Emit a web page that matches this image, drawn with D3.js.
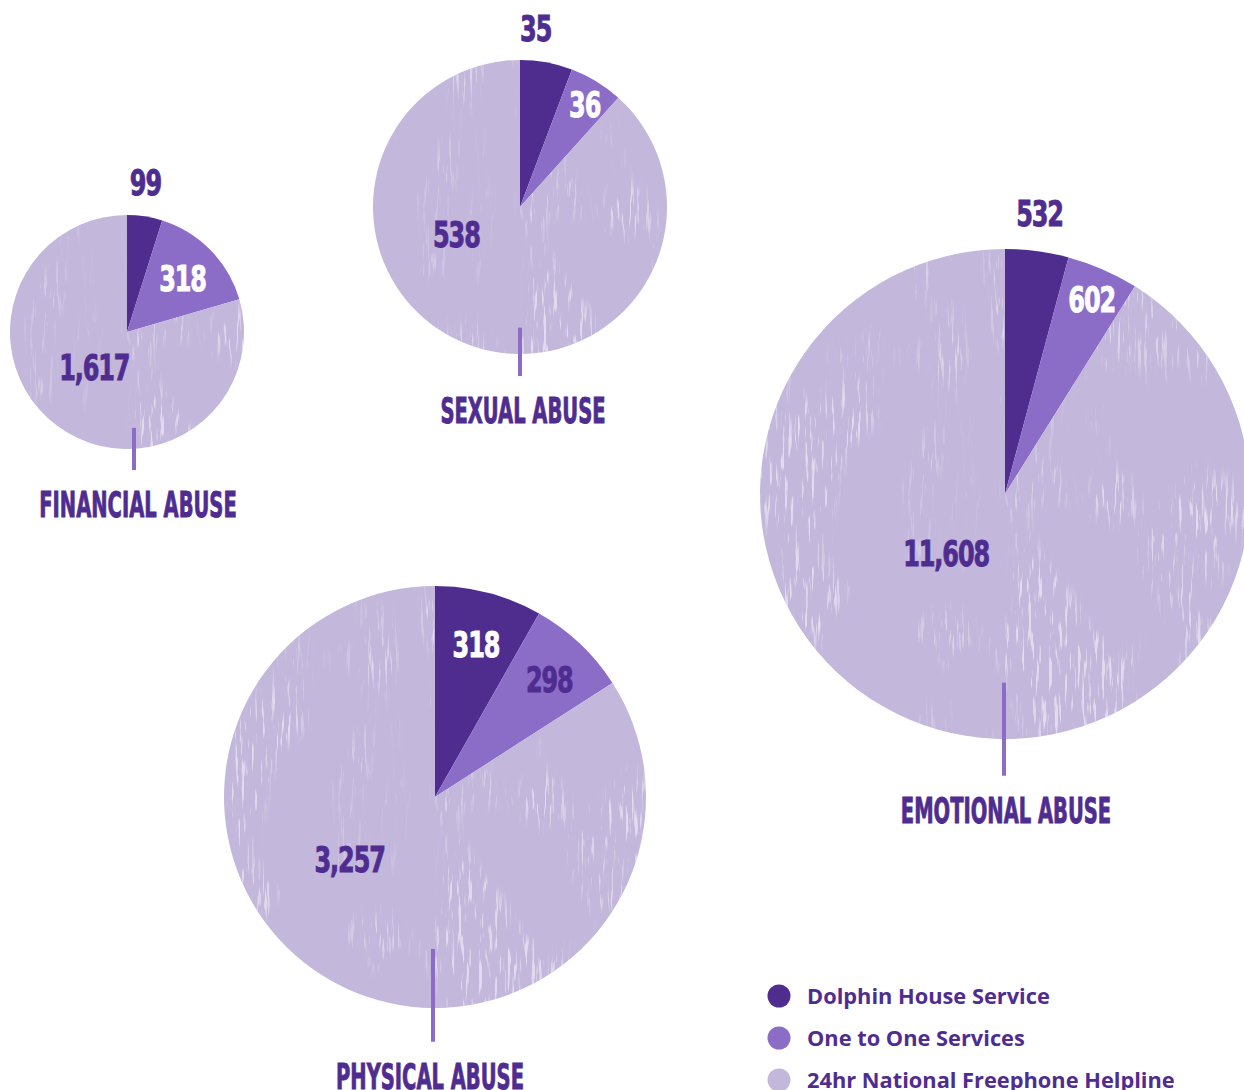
<!DOCTYPE html>
<html>
<head>
<meta charset="utf-8">
<script src="https://cdn.jsdelivr.net/npm/d3@7/dist/d3.min.js"></script>
<style>
  html, body { margin: 0; padding: 0; background: #fff; }
  svg { display: block; }
</style>
</head>
<body>
<div id="chart"></div>
<script>
// Data
const categories = ['FINANCIAL ABUSE', 'SEXUAL ABUSE', 'EMOTIONAL ABUSE', 'PHYSICAL ABUSE'];
const services = ['Dolphin House Service', 'One to One Services', '24hr National Freephone Helpline'];
const dolphinHouse = [99, 35, 532, 318];
const oneToOne = [318, 36, 602, 298];
const helpline = [1617, 538, 11608, 3257];

// Layout (centres, radii, label placement as [angle deg, radius fraction])
const layout = [
    { cx: 127, cy: 332, r: 117, lineX: 134, titleDx: 4, labels: [[7, 1.29], [46, 0.66], [223, 0.41]] },
    { cx: 520, cy: 207, r: 147, lineX: 520, titleDx: 3, labels: [[5, 1.22], [32, 0.83], [247, 0.47]] },
    { cx: 1005, cy: 494, r: 245, lineX: 1004, titleDx: 2, labels: [[7, 1.155], [24, 0.87], [225, 0.34]] },
    { cx: 435, cy: 797, r: 211, lineX: 433, titleDx: -3, labels: [[15, 0.75], [44, 0.78], [234, 0.5]] }
];
const lineSpan = [[0.82, 1.18], [0.82, 1.15], [0.77, 1.15], [0.72, 1.16]];

const colors = ['#4f2d8f', '#8b6dc8', '#c3b7db'];
const labelColors = [
    ['#4f2d90', '#ffffff', '#4f2d90'],
    ['#4f2d90', '#ffffff', '#4f2d90'],
    ['#4f2d90', '#ffffff', '#4f2d90'],
    ['#ffffff', '#4f2d90', '#4f2d90']
];
const textColor = '#4f2d90';
const condensed = "'Liberation Sans Narrow', 'DejaVu Sans Condensed', 'Arial Narrow', sans-serif";

const width = 1244, height = 1090;

const svg = d3.select('#chart').append('svg')
    .attr('width', width)
    .attr('height', height);

// grunge texture for the helpline slices: vertical streaks, masked by patches
const defs = svg.append('defs');
const filter = defs.append('filter').attr('id', 'grunge')
    .attr('x', 0).attr('y', 0).attr('width', '100%').attr('height', '100%');
filter.append('feTurbulence')
    .attr('type', 'fractalNoise')
    .attr('baseFrequency', '0.3 0.025')
    .attr('numOctaves', 3)
    .attr('seed', 7)
    .attr('result', 'noise');
filter.append('feTurbulence')
    .attr('type', 'fractalNoise')
    .attr('baseFrequency', '0.012 0.008')
    .attr('numOctaves', 2)
    .attr('seed', 3)
    .attr('result', 'patch');
filter.append('feColorMatrix')
    .attr('in', 'patch')
    .attr('type', 'matrix')
    .attr('values', '0 0 0 0 1  0 0 0 0 1  0 0 0 0 1  6 0 0 0 -2.6')
    .attr('result', 'patchMask');
filter.append('feColorMatrix')
    .attr('in', 'noise')
    .attr('type', 'matrix')
    .attr('values', '0 0 0 0 1  0 0 0 0 1  0 0 0 0 1  9 0 0 0 -5.2')
    .attr('result', 'specks');
filter.append('feComposite')
    .attr('in', 'specks')
    .attr('in2', 'patchMask')
    .attr('operator', 'in')
    .attr('result', 'patchy');
filter.append('feComposite')
    .attr('in', 'patchy')
    .attr('in2', 'SourceAlpha')
    .attr('operator', 'in');

const pie = d3.pie().sort(null).value(d => d);
const fmt = d3.format(',');

categories.forEach((cat, i) => {
    const L = layout[i];
    const values = [dolphinHouse[i], oneToOne[i], helpline[i]];
    const arcs = pie(values);
    const arc = d3.arc().innerRadius(0).outerRadius(L.r);

    const g = svg.append('g').attr('transform', `translate(${L.cx},${L.cy})`);

    g.selectAll('path.slice')
        .data(arcs)
        .join('path')
        .attr('class', 'slice')
        .attr('d', arc)
        .attr('fill', (d, j) => colors[j]);

    // texture over the light slice
    g.append('path')
        .datum(arcs[2])
        .attr('d', arc)
        .attr('fill', '#fff')
        .attr('opacity', 0.5)
        .attr('filter', 'url(#grunge)');

    // value labels
    g.selectAll('text.val')
        .data(arcs)
        .join('text')
        .attr('class', 'val')
        .attr('transform', (d, j) => {
            const [a, f] = L.labels[j];
            const rad = a * Math.PI / 180;
            const x = Math.sin(rad) * L.r * f;
            const y = -Math.cos(rad) * L.r * f;
            return `translate(${x},${y + 13}) scale(0.74,1)`;
        })
        .attr('text-anchor', 'middle')
        .attr('font-family', condensed)
        .attr('font-weight', 'bold')
        .attr('font-size', 36)
        .attr('letter-spacing', -1.5)
        .attr('fill', (d, j) => labelColors[i][j])
        .attr('stroke', (d, j) => labelColors[i][j])
        .attr('stroke-width', 0.9)
        .text(d => fmt(d.data));

    // leader line
    const [s0, s1] = lineSpan[i];
    svg.append('line')
        .attr('x1', L.lineX).attr('x2', L.lineX)
        .attr('y1', L.cy + L.r * s0)
        .attr('y2', L.cy + L.r * s1)
        .attr('stroke', colors[1])
        .attr('stroke-width', 4);

    // category title
    svg.append('text')
        .attr('transform', `translate(${L.lineX + L.titleDx},${L.cy + L.r * s1 + 47}) scale(0.62,1)`)
        .attr('text-anchor', 'middle')
        .attr('font-family', condensed)
        .attr('font-weight', 'bold')
        .attr('font-size', 35)
        .attr('fill', textColor)
        .attr('stroke', textColor)
        .attr('stroke-width', 0.9)
        .text(cat);
});

// legend
const legend = svg.append('g').attr('transform', 'translate(779,996)');
const ly = d3.scalePoint().domain(services).range([0, 84]);
legend.selectAll('circle')
    .data(services)
    .join('circle')
    .attr('cx', 0)
    .attr('cy', d => ly(d))
    .attr('r', 11.5)
    .attr('fill', (d, j) => colors[j]);
legend.selectAll('text')
    .data(services)
    .join('text')
    .attr('x', 28)
    .attr('y', d => ly(d) + 8)
    .attr('font-family', "'Open Sans', Lato, sans-serif")
    .attr('font-weight', 'bold')
    .attr('font-size', 21.8)
    .attr('fill', textColor)
    .text(d => d);
</script>
</body>
</html>
